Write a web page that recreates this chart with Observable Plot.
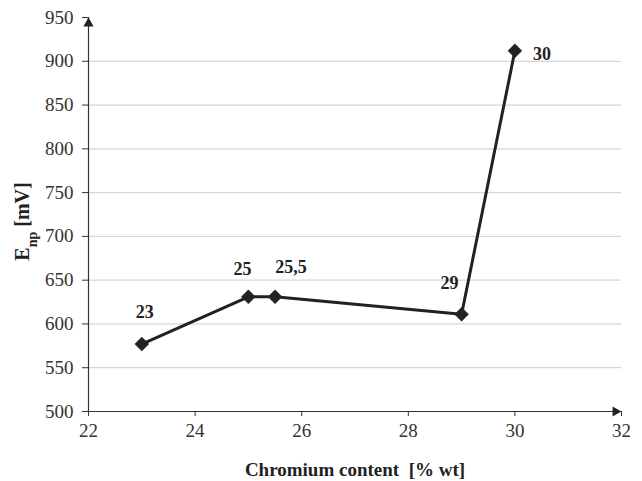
<!DOCTYPE html>
<html><head><meta charset="utf-8">
<script src="https://cdn.jsdelivr.net/npm/d3@7"></script>
<script src="https://cdn.jsdelivr.net/npm/@observablehq/plot@0.6"></script>
<style>
body{margin:0;background:#fff;}
#chart{width:642px;height:481px;}
</style></head>
<body><div id="chart"></div>
<script>
const chromium = [23, 25, 25.5, 29, 30];
const enp = [577, 631, 631, 611, 912];
const pointLabels = ["23", "25", "25,5", "29", "30"];
const xTicks = [22, 24, 26, 28, 30, 32];
const yTicks = [500, 550, 600, 650, 700, 750, 800, 850, 900, 950];
const gridTicks = [550, 600, 650, 700, 750, 800, 850, 900];

const data = chromium.map((c, i) => ({x: c, y: enp[i], label: pointLabels[i]}));
const font = "'Liberation Serif', 'Times New Roman', serif";
const ink = "#222";

function labelMark(i, dx, dy) {
  return Plot.text([data[i]], {x: "x", y: "y", text: "label", dx, dy,
    fontWeight: "bold", fontSize: 18, fill: ink, fontFamily: font});
}

const chart = Plot.plot({
  width: 642, height: 481,
  marginLeft: 88, marginRight: 21, marginTop: 17, marginBottom: 70,
  style: {fontFamily: font, fontSize: "19px", color: "#333", background: "#fff"},
  x: {domain: [22, 32]},
  y: {domain: [500, 950]},
  marks: [
    Plot.ruleY(gridTicks, {stroke: "#d6d6d6", strokeWidth: 1.2}),
    Plot.axisX({ticks: xTicks, tickSize: 5, tickPadding: 7, fontSize: 19, fontFamily: font, stroke: "#333", fill: "#333",
      label: "Chromium content  [% wt]", labelAnchor: "center", labelArrow: false, labelOffset: 64}),
    Plot.axisY({ticks: yTicks, tickSize: 6, tickPadding: 9, fontSize: 19, fontFamily: font, stroke: "#333", fill: "#333",
      label: "Enp [mV]", labelAnchor: "center", labelArrow: false, labelOffset: 74}),
    Plot.ruleX([22], {stroke: "#333", strokeWidth: 1.2}),
    Plot.ruleY([500], {stroke: "#333", strokeWidth: 1.2}),
    Plot.dot([{x: 22, y: 950}], {x: "x", y: "y", symbol: "triangle", r: 3.8, fill: ink, stroke: "none", dy: 6}),
    Plot.dot([{x: 32, y: 500}], {x: "x", y: "y", symbol: "triangle", r: 3.8, fill: ink, stroke: "none", rotate: 90, dx: -6}),
    Plot.line(data, {x: "x", y: "y", stroke: ink, strokeWidth: 3}),
    Plot.dot(data, {x: "x", y: "y", symbol: "diamond2", r: 6.3, fill: ink, stroke: ink, strokeWidth: 0.5}),
    labelMark(0, 3, -32),
    labelMark(1, -6, -28),
    labelMark(2, 16, -30),
    labelMark(3, -12, -31),
    labelMark(4, 27, 3)
  ]
});
document.getElementById("chart").appendChild(chart);

d3.select(chart).selectAll('g[aria-label="x-axis label"] text, g[aria-label="y-axis label"] text')
  .attr("font-weight", "bold").attr("fill", ink).style("white-space", "pre");
const yl = d3.select(chart).select('g[aria-label="y-axis label"] text');
if (!yl.empty()) {
  yl.attr("font-size", "20px").attr("dx", -7);
  yl.text(null);
  yl.append("tspan").text("E");
  yl.append("tspan").attr("baseline-shift", "sub").attr("font-size", "14px").text("np");
  yl.append("tspan").text(" [mV]");
}
</script>
</body></html>
